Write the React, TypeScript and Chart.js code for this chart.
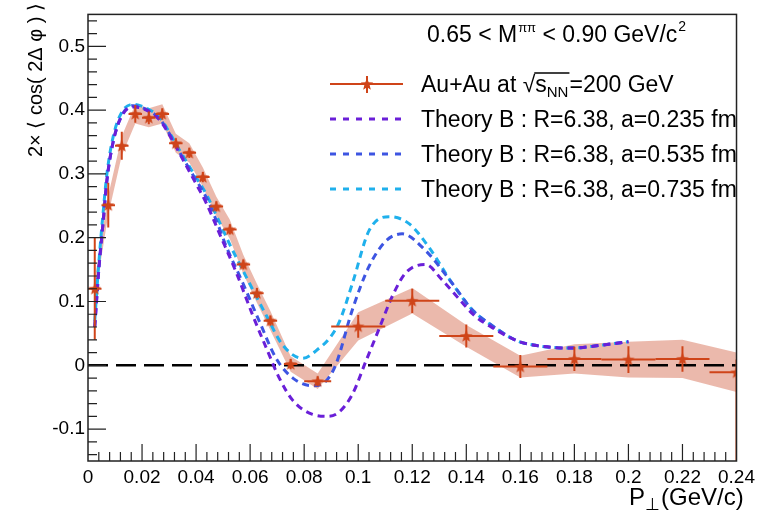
import React, { useEffect, useRef } from "react";
import { Chart, registerables } from "chart.js";

Chart.register(...registerables);

// ---- Measured azimuthal modulation vs pair transverse momentum ----
const ptX = [
  0.0025, 0.0075, 0.0125, 0.0175, 0.0225, 0.0275, 0.0325, 0.0375, 0.0425, 0.0475,
  0.0525, 0.0575, 0.0625, 0.0675, 0.075, 0.085, 0.1, 0.12, 0.14, 0.16, 0.18, 0.2,
  0.22, 0.24,
];
const ptY = [
  0.12, 0.251, 0.344, 0.394, 0.388, 0.394, 0.348, 0.333, 0.295, 0.249, 0.213,
  0.158, 0.113, 0.07, 0.002, -0.025, 0.061, 0.101, 0.046, -0.002, 0.01, 0.009,
  0.01, -0.011,
];
const binHalf = [
  0.0025, 0.0025, 0.0025, 0.0025, 0.0025, 0.0025, 0.0025, 0.0025, 0.0025, 0.0025,
  0.0025, 0.0025, 0.0025, 0.0025, 0.0025, 0.005, 0.01, 0.01, 0.01, 0.01, 0.01,
  0.01, 0.01, 0.01,
];
const statUp = [
  0.08, 0.035, 0.022, 0.014, 0.01, 0.009, 0.008, 0.008, 0.008, 0.008, 0.008,
  0.008, 0.008, 0.008, 0.008, 0.008, 0.018, 0.019, 0.018, 0.018, 0.019, 0.021,
  0.02, 0.02,
];
const statDown = [
  0.08, 0.035, 0.022, 0.014, 0.01, 0.009, 0.008, 0.008, 0.008, 0.008, 0.008,
  0.008, 0.008, 0.008, 0.008, 0.008, 0.018, 0.019, 0.018, 0.018, 0.019, 0.021,
  0.02, 0.14,
];
const sysErr = [
  0.015, 0.015, 0.015, 0.015, 0.015, 0.015, 0.015, 0.015, 0.015, 0.015, 0.015,
  0.015, 0.015, 0.015, 0.012, 0.012, 0.022, 0.02, 0.017, 0.017, 0.023, 0.028,
  0.03, 0.031,
];

// ---- Theory B curves (R = 6.38 fm) ----
const thA235X = [
  0.0025, 0.004, 0.0055, 0.007, 0.0093, 0.0124, 0.0167, 0.0216, 0.0266, 0.0308,
  0.0339, 0.0389, 0.0438, 0.0487, 0.0549, 0.061, 0.066, 0.0708, 0.0758, 0.0831,
  0.089, 0.093, 0.0979, 0.1028, 0.1077, 0.1127, 0.1176, 0.1249, 0.131, 0.1373,
  0.143, 0.1496, 0.159, 0.166, 0.172, 0.179, 0.189, 0.2,
];
const thA235Y = [
  0.06, 0.15, 0.22, 0.29, 0.35, 0.39, 0.405, 0.4, 0.384, 0.356, 0.332, 0.293,
  0.254, 0.206, 0.145, 0.078, 0.027, -0.02, -0.055, -0.077, -0.08, -0.073, -0.045,
  0.006, 0.057, 0.109, 0.145, 0.158, 0.134, 0.104, 0.078, 0.059, 0.038, 0.031,
  0.028, 0.027, 0.031, 0.037,
];
const thA535X = [
  0.0025, 0.004, 0.0055, 0.007, 0.0093, 0.0124, 0.0167, 0.0216, 0.0266, 0.0308,
  0.0339, 0.0389, 0.0438, 0.0475, 0.0512, 0.0573, 0.0635, 0.0696, 0.0758, 0.0831,
  0.088, 0.0917, 0.0979, 0.104, 0.1103, 0.1163, 0.1249, 0.1347, 0.142, 0.1496,
  0.159, 0.166, 0.172, 0.179, 0.189, 0.2,
];
const thA535Y = [
  0.06, 0.15, 0.22, 0.29, 0.35, 0.391, 0.407, 0.401, 0.386, 0.358, 0.334, 0.298,
  0.263, 0.227, 0.186, 0.129, 0.068, 0.011, -0.02, -0.032, -0.025, 0.001, 0.088,
  0.155, 0.195, 0.206, 0.18, 0.129, 0.088, 0.062, 0.038, 0.031, 0.028, 0.027,
  0.031, 0.037,
];
const thA735X = [
  0.0025, 0.004, 0.0055, 0.007, 0.0093, 0.0124, 0.0167, 0.0216, 0.0266, 0.0308,
  0.0339, 0.0389, 0.0438, 0.0475, 0.0524, 0.0585, 0.066, 0.072, 0.0794, 0.0856,
  0.0893, 0.093, 0.0979, 0.104, 0.1114, 0.1188, 0.126, 0.1347, 0.142, 0.1496,
  0.159, 0.166, 0.172, 0.179, 0.189, 0.2,
];
const thA735Y = [
  0.07, 0.16, 0.235, 0.3, 0.358, 0.396, 0.409, 0.403, 0.388, 0.36, 0.337, 0.302,
  0.268, 0.235, 0.19, 0.139, 0.078, 0.032, 0.011, 0.027, 0.042, 0.068, 0.129,
  0.211, 0.233, 0.222, 0.186, 0.129, 0.088, 0.062, 0.038, 0.031, 0.028, 0.027,
  0.031, 0.037,
];

// Reference line at zero
const zeroLineX = [0, 0.24];
const zeroLineY = [0, 0];

// ---- Axes ----
const xTickValues = [0, 0.02, 0.04, 0.06, 0.08, 0.1, 0.12, 0.14, 0.16, 0.18, 0.2, 0.22, 0.24];
const xTickLabels = ["0", "0.02", "0.04", "0.06", "0.08", "0.1", "0.12", "0.14", "0.16", "0.18", "0.2", "0.22", "0.24"];
const yTickValues = [-0.1, 0, 0.1, 0.2, 0.3, 0.4, 0.5];
const yTickLabels = ["-0.1", "0", "0.1", "0.2", "0.3", "0.4", "0.5"];

const theoryLabels = [
  "Theory B : R=6.38, a=0.235 fm",
  "Theory B : R=6.38, a=0.535 fm",
  "Theory B : R=6.38, a=0.735 fm",
];

const FONT = '"Liberation Sans", Arial, Helvetica, sans-serif';
const RED = "#cf4419";
const BAND = "rgba(210, 100, 70, 0.45)";
const PURPLE = "#6a1fd8";
const BLUE = "#3d55e2";
const CYAN = "#1fb0ec";
const THEORY_DASH = [7, 5];

function makeStar(): HTMLCanvasElement {
  const c = document.createElement("canvas");
  c.width = 14;
  c.height = 14;
  const g = c.getContext("2d")!;
  g.fillStyle = RED;
  g.beginPath();
  for (let k = 0; k < 10; k++) {
    const r = k % 2 === 0 ? 6.5 : 2.8;
    const ang = -Math.PI / 2 + (k * Math.PI) / 5;
    const px = 7 + r * Math.cos(ang);
    const py = 7.5 + r * Math.sin(ang);
    if (k === 0) g.moveTo(px, py);
    else g.lineTo(px, py);
  }
  g.closePath();
  g.fill();
  return c;
}

const pts = (xs: number[], ys: number[]) => xs.map((x, i) => ({ x, y: ys[i] }));

export default function App() {
  const ref = useRef<HTMLCanvasElement | null>(null);

  useEffect(() => {
    document.body.style.margin = "0";
    const canvas = ref.current;
    if (!canvas) return;
    const star = makeStar();
    const DATA_INDEX = 6;

    const run = (ctx: CanvasRenderingContext2D, text: string, x: number, y: number, font: string) => {
      ctx.font = font;
      ctx.fillText(text, x, y);
      return x + ctx.measureText(text).width;
    };

    const decor = {
      id: "decor",
      beforeDatasetDraw(chart: any, args: any) {
        if (args.index !== DATA_INDEX) return;
        const { ctx, chartArea: a } = chart;
        const xs = chart.scales.x;
        const ys = chart.scales.y;
        ctx.save();
        ctx.beginPath();
        ctx.rect(a.left, a.top, a.right - a.left, a.bottom - a.top);
        ctx.clip();
        ctx.strokeStyle = RED;
        ctx.lineWidth = 2;
        ptX.forEach((px, i) => {
          const cx = xs.getPixelForValue(px);
          const cy = ys.getPixelForValue(ptY[i]);
          ctx.beginPath();
          ctx.moveTo(xs.getPixelForValue(px - binHalf[i]), cy);
          ctx.lineTo(xs.getPixelForValue(px + binHalf[i]), cy);
          ctx.moveTo(cx, ys.getPixelForValue(ptY[i] + statUp[i]));
          ctx.lineTo(cx, ys.getPixelForValue(ptY[i] - statDown[i]));
          ctx.stroke();
        });
        ctx.restore();
      },
      afterDraw(chart: any) {
        const { ctx, chartArea: a } = chart;
        const xs = chart.scales.x;
        const ys = chart.scales.y;
        ctx.save();
        // frame
        ctx.strokeStyle = "#222";
        ctx.lineWidth = 1.5;
        ctx.strokeRect(a.left, a.top, a.right - a.left, a.bottom - a.top);
        // inner tick marks
        ctx.lineWidth = 1.2;
        ctx.beginPath();
        for (let k = -7; k <= 27; k++) {
          const py = ys.getPixelForValue(k * 0.02);
          const len = k % 5 === 0 ? 18 : 9;
          ctx.moveTo(a.left, py);
          ctx.lineTo(a.left + len, py);
        }
        for (let k = 1; k < 60; k++) {
          const px = xs.getPixelForValue(k * 0.004);
          const len = k % 5 === 0 ? 17 : 9;
          ctx.moveTo(px, a.bottom);
          ctx.lineTo(px, a.bottom - len);
        }
        ctx.stroke();

        ctx.fillStyle = "#000";
        ctx.textBaseline = "alphabetic";
        ctx.textAlign = "left";

        // mass window label
        let tx = run(ctx, "0.65 < M", 427, 42, `23px ${FONT}`);
        tx = run(ctx, "\u03c0\u03c0", tx + 1, 32, `13px ${FONT}`);
        tx = run(ctx, " < 0.90 GeV/c", tx, 42, `23px ${FONT}`);
        run(ctx, "2", tx + 1, 31, `14px ${FONT}`);

        // legend: data entry
        ctx.strokeStyle = RED;
        ctx.lineWidth = 2;
        ctx.beginPath();
        ctx.moveTo(330, 84);
        ctx.lineTo(403, 84);
        ctx.moveTo(367, 76);
        ctx.lineTo(367, 93);
        ctx.stroke();
        ctx.drawImage(star, 367 - 7, 84 - 7);
        tx = run(ctx, "Au+Au at ", 421, 92, `23px ${FONT}`);
        tx = run(ctx, "\u221a", tx, 92, `23px ${FONT}`);
        const barStart = tx;
        tx = run(ctx, "s", tx, 92, `23px ${FONT}`);
        tx = run(ctx, "NN", tx, 97, `15px ${FONT}`);
        ctx.strokeStyle = "#000";
        ctx.lineWidth = 1.5;
        ctx.beginPath();
        ctx.moveTo(barStart - 1, 73);
        ctx.lineTo(tx + 1, 73);
        ctx.stroke();
        run(ctx, "=200 GeV", tx + 1, 92, `23px ${FONT}`);

        // legend: theory entries
        const cols = [PURPLE, BLUE, CYAN];
        cols.forEach((c, i) => {
          const ly = 119 + i * 35;
          ctx.strokeStyle = c;
          ctx.lineWidth = 3;
          ctx.setLineDash([6, 7]);
          ctx.beginPath();
          ctx.moveTo(330, ly);
          ctx.lineTo(404, ly);
          ctx.stroke();
          ctx.setLineDash([]);
          run(ctx, theoryLabels[i], 421, ly + 8, `23px ${FONT}`);
        });

        // x-axis title
        ctx.fillStyle = "#000";
        let ax = 629;
        ax = run(ctx, "P", ax, 505, `24px ${FONT}`);
        ax = run(ctx, "\u22a5", ax, 510, `17px ${FONT}`);
        run(ctx, "(GeV/c)", ax + 1, 505, `24px ${FONT}`);

        // y-axis title
        ctx.save();
        ctx.translate(42, 3);
        ctx.rotate(-Math.PI / 2);
        ctx.textAlign = "right";
        ctx.font = `20px ${FONT}`;
        ctx.fillText("2\u00d7 \u27e8 cos( 2\u0394 \u03c6 ) \u27e9", 0, 0);
        ctx.restore();

        ctx.restore();
      },
    };

    const chart = new Chart(canvas, {
      type: "line",
      data: {
        datasets: [
          {
            label: "sys-upper",
            data: pts(ptX, ptY.map((v, i) => v + sysErr[i])),
            borderWidth: 0,
            pointRadius: 0,
            fill: false,
            order: 6,
          },
          {
            label: "sys-lower",
            data: pts(ptX, ptY.map((v, i) => v - sysErr[i])),
            borderWidth: 0,
            pointRadius: 0,
            backgroundColor: BAND,
            fill: "-1",
            order: 5,
          },
          {
            label: "zero",
            data: pts(zeroLineX, zeroLineY),
            borderColor: "#000",
            borderWidth: 2.5,
            borderDash: [20, 8],
            pointRadius: 0,
            fill: false,
            order: 4,
          },
          {
            label: theoryLabels[0],
            data: pts(thA235X, thA235Y),
            borderColor: PURPLE,
            borderWidth: 3,
            borderDash: THEORY_DASH,
            cubicInterpolationMode: "monotone",
            pointRadius: 0,
            fill: false,
            order: 3,
          },
          {
            label: theoryLabels[1],
            data: pts(thA535X, thA535Y),
            borderColor: BLUE,
            borderWidth: 3,
            borderDash: THEORY_DASH,
            cubicInterpolationMode: "monotone",
            pointRadius: 0,
            fill: false,
            order: 3,
          },
          {
            label: theoryLabels[2],
            data: pts(thA735X, thA735Y),
            borderColor: CYAN,
            borderWidth: 3,
            borderDash: THEORY_DASH,
            cubicInterpolationMode: "monotone",
            pointRadius: 0,
            fill: false,
            order: 3,
          },
          {
            label: "Au+Au",
            data: pts(ptX, ptY),
            showLine: false,
            pointStyle: star as any,
            pointRadius: 6,
            order: 1,
          },
        ],
      },
      options: {
        responsive: false,
        animation: false,
        devicePixelRatio: 1,
        layout: { padding: { top: 8, right: 21, bottom: 0, left: 0 } },
        plugins: { legend: { display: false }, tooltip: { enabled: false } },
        scales: {
          x: {
            type: "linear",
            min: 0,
            max: 0.24,
            grid: { display: false, drawTicks: false },
            border: { display: false },
            afterBuildTicks: (s: any) => {
              s.ticks = xTickValues.map((v) => ({ value: v }));
            },
            afterFit: (s: any) => {
              s.height = 54;
            },
            ticks: {
              autoSkip: false,
              maxRotation: 0,
              padding: 5,
              color: "#000",
              font: { family: FONT, size: 19 },
              callback: (_v: any, i: number) => xTickLabels[i],
            },
          },
          y: {
            type: "linear",
            min: -0.15,
            max: 0.55,
            grid: { display: false, drawTicks: false },
            border: { display: false },
            afterBuildTicks: (s: any) => {
              s.ticks = yTickValues.map((v) => ({ value: v }));
            },
            afterFit: (s: any) => {
              s.width = 88;
            },
            ticks: {
              autoSkip: false,
              padding: 3,
              color: "#000",
              font: { family: FONT, size: 19 },
              callback: (_v: any, i: number) => yTickLabels[i],
            },
          },
        },
      },
      plugins: [decor],
    });

    return () => chart.destroy();
  }, []);

  return (
    <div style={{ width: 760, height: 515, background: "#fff" }}>
      <canvas ref={ref} width={760} height={515} />
    </div>
  );
}
